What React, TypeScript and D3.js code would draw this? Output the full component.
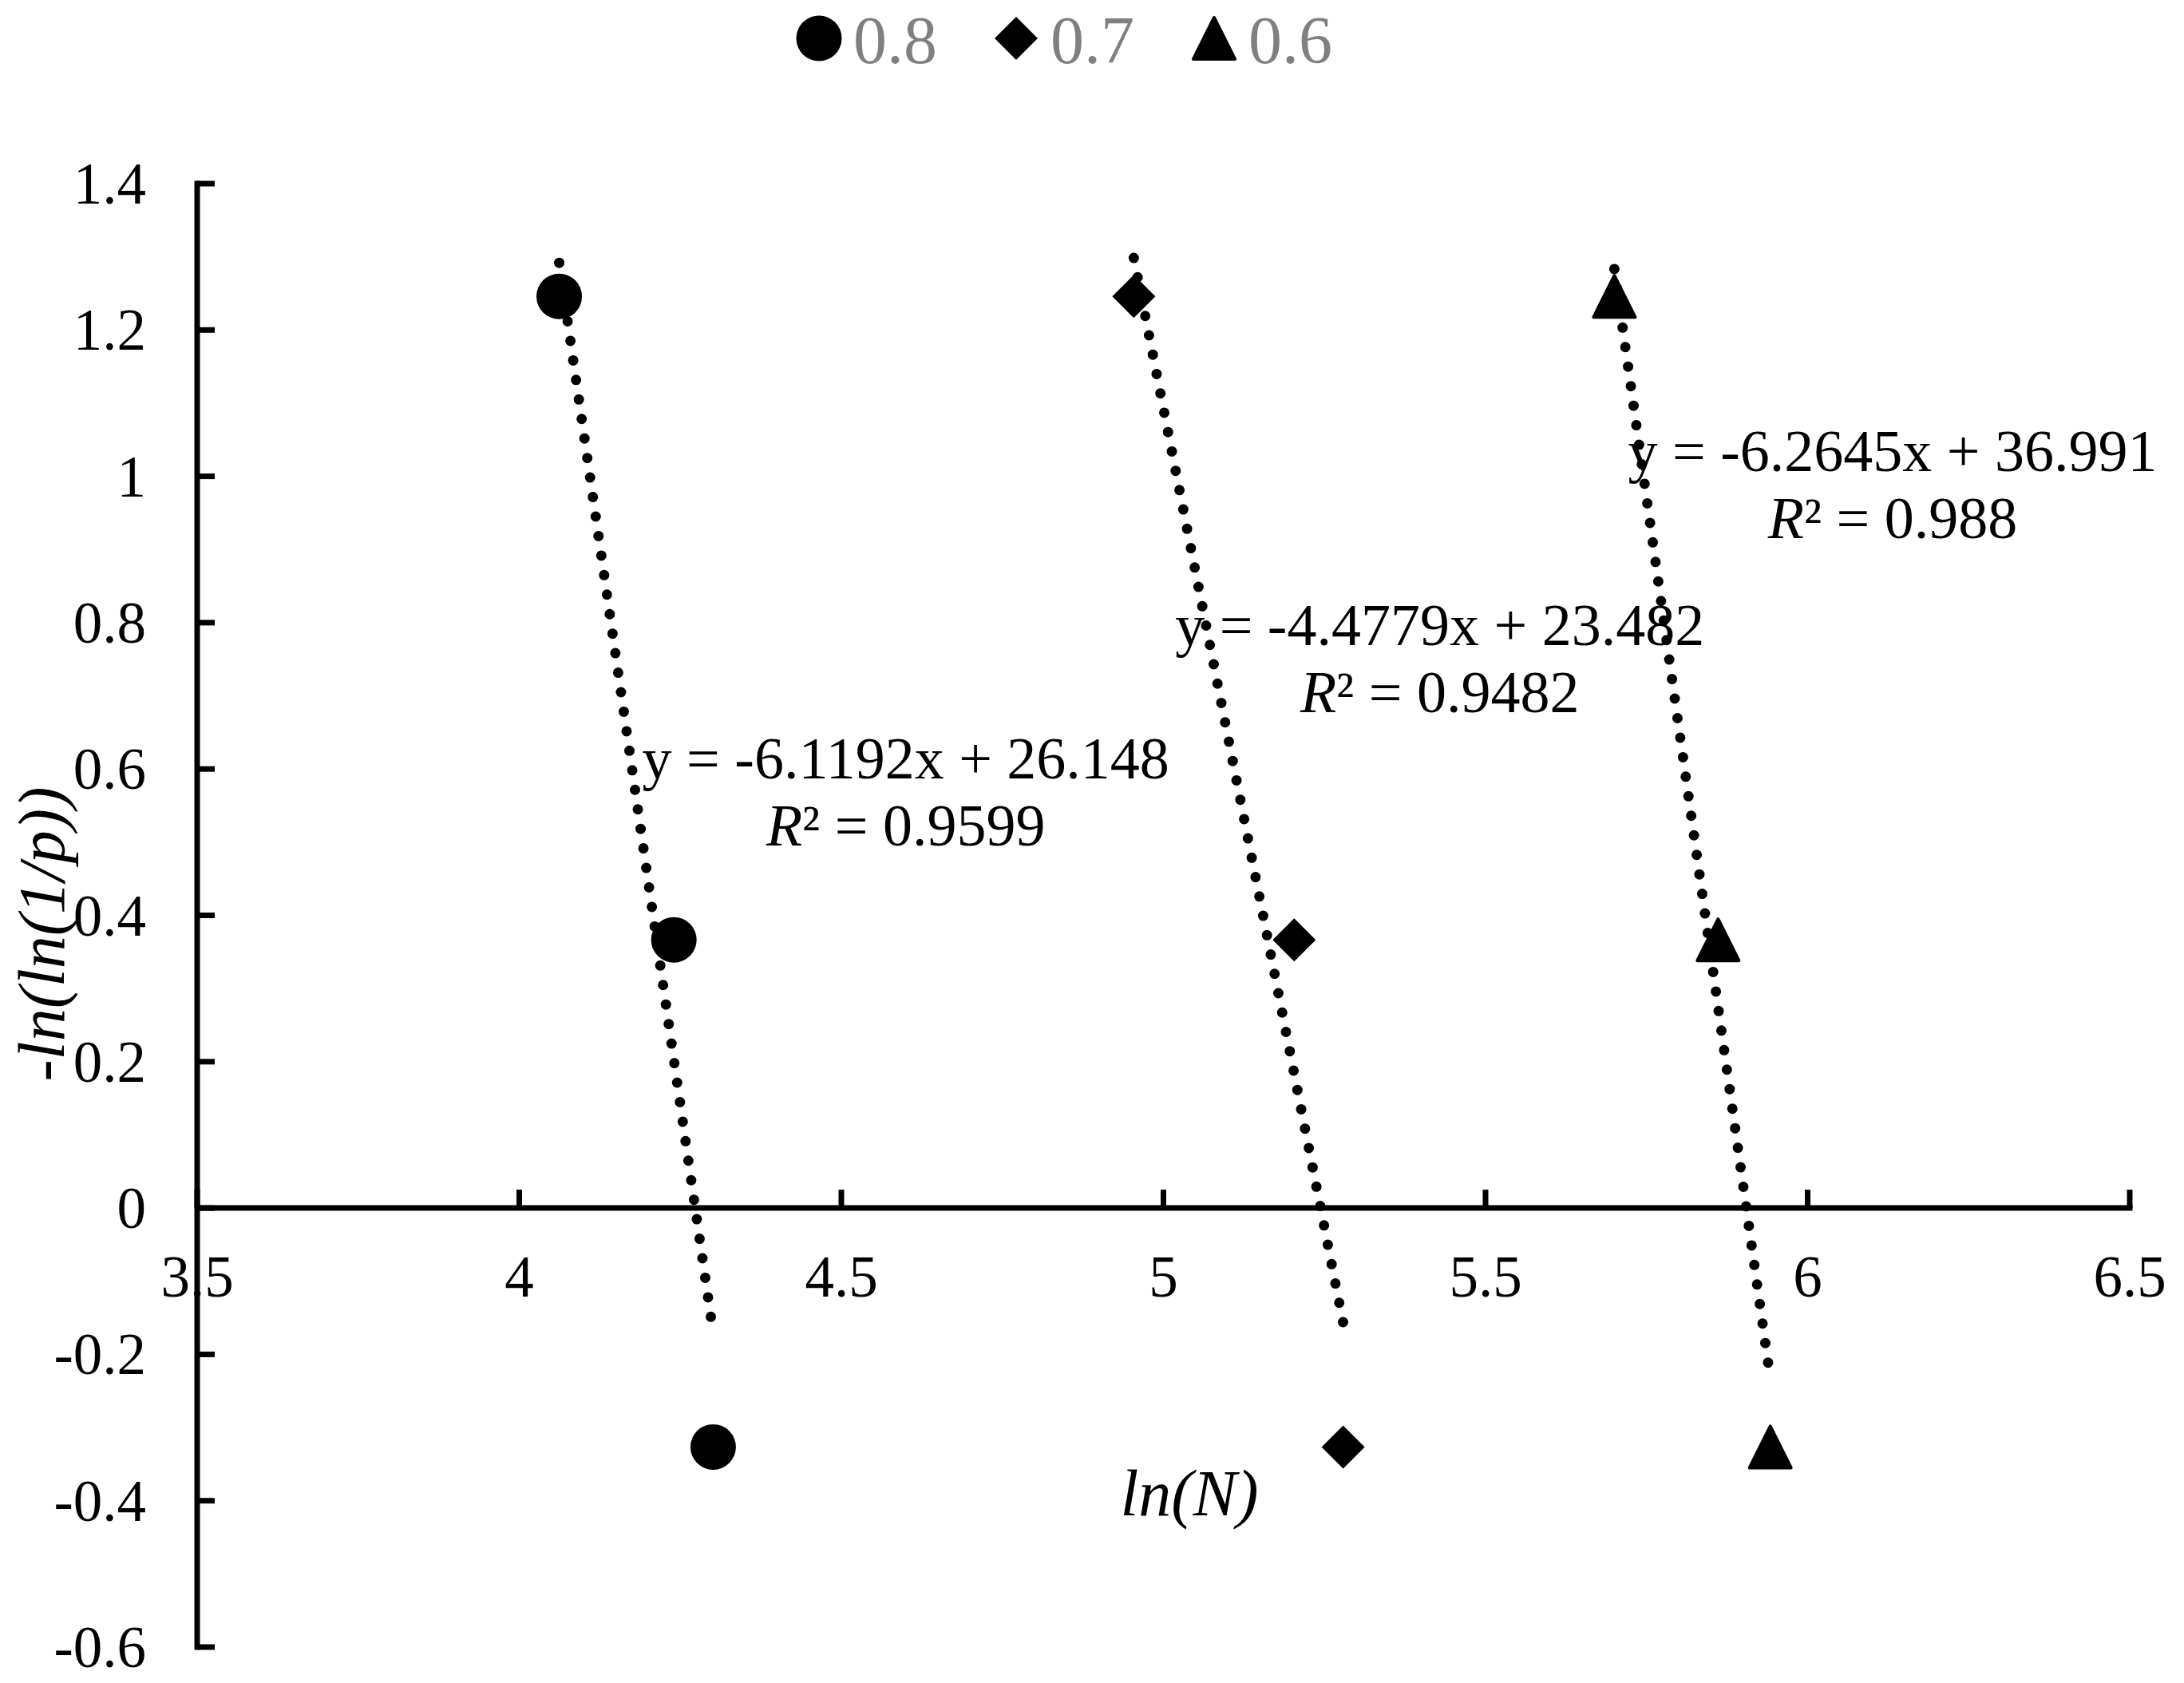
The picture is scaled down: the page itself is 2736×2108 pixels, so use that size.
import * as d3 from 'd3';

const W = 2736;
const H = 2108;

// data
const seriesNames = ['0.8', '0.7', '0.6'];
const yValues = [1.2459, 0.3665, -0.3266];
const xCircle = [4.062, 4.24, 4.301];
const xDiamond = [4.954, 5.203, 5.279];
const xTriangle = [5.7, 5.861, 5.942];
const slopes = [-6.1192, -4.4779, -6.2645];
const intercepts = [26.148, 23.482, 36.991];
const rSquared = ['0.9599', '0.9482', '0.988'];
const xTicks = [3.5, 4, 4.5, 5, 5.5, 6, 6.5];
const yTicks = [1.4, 1.2, 1, 0.8, 0.6, 0.4, 0.2, 0, -0.2, -0.4, -0.6];

// where the equation labels sit (data units, centre of first line)
const eqAnchorX = [4.6, 5.429, 6.132];
const eqAnchorY = [0.587, 0.769, 1.007];

const FONT = '"Liberation Serif", "Times New Roman", serif';

function marker(kind: string, cx: number, cy: number) {
  if (kind === 'circle') {
    return <circle cx={cx} cy={cy} r={28.5} fill="#000" />;
  }
  if (kind === 'diamond') {
    const h = 27;
    return (
      <path
        d={`M${cx},${cy - h}L${cx + h},${cy}L${cx},${cy + h}L${cx - h},${cy}Z`}
        fill="#000"
      />
    );
  }
  const s = 26;
  return (
    <path
      d={`M${cx},${cy - s}L${cx + s},${cy + s}L${cx - s},${cy + s}Z`}
      fill="#000"
      stroke="#000"
      strokeWidth={4}
      strokeLinejoin="round"
    />
  );
}

export default function App() {
  const x = d3.scaleLinear().domain([3.5, 6.5]).range([247, 2668]);
  const y = d3.scaleLinear().domain([-0.6, 1.4]).range([2063, 230]);

  const series = [
    { kind: 'circle', xs: xCircle },
    { kind: 'diamond', xs: xDiamond },
    { kind: 'triangle', xs: xTriangle },
  ];

  const line = d3
    .line<number[]>()
    .x((d) => x(d[0]))
    .y((d) => y(d[1]));

  const x0 = x(3.5);
  const y0 = y(0);

  return (
    <svg
      width={W}
      height={H}
      viewBox={`0 0 ${W} ${H}`}
      style={{ position: 'absolute', left: 0, top: 0, background: '#fff' }}
      fontFamily={FONT}
    >
      <rect width={W} height={H} fill="#fff" />

      {/* legend */}
      {seriesNames.map((name, i) => {
        const cx = [1026, 1273, 1521][i];
        return (
          <g key={name}>
            {marker(series[i].kind, cx, 48)}
            <text x={cx + 43} y={79} fontSize={84} fill="#808080">
              {name}
            </text>
          </g>
        );
      })}

      {/* y axis */}
      <line x1={x0} x2={x0} y1={y(1.4) - 3.5} y2={y(-0.6) + 3.5} stroke="#000" strokeWidth={7} />
      {yTicks.map((t) => (
        <g key={'y' + t}>
          <line x1={x0} x2={x0 + 22} y1={y(t)} y2={y(t)} stroke="#000" strokeWidth={7} />
          <text x={183} y={y(t) + 25} fontSize={73} textAnchor="end" fill="#000">
            {String(t)}
          </text>
        </g>
      ))}

      {/* x axis */}
      <line x1={x0} x2={x(6.5) + 3.5} y1={y0} y2={y0} stroke="#000" strokeWidth={7} />
      {xTicks.map((t) => (
        <g key={'x' + t}>
          <line x1={x(t)} x2={x(t)} y1={y0} y2={y0 - 23} stroke="#000" strokeWidth={7} />
          <text x={x(t)} y={y0 + 111} fontSize={73} textAnchor="middle" fill="#000">
            {String(t)}
          </text>
        </g>
      ))}

      {/* trendlines */}
      {series.map((s, i) => {
        const lo = d3.min(s.xs) as number;
        const hi = d3.max(s.xs) as number;
        const pts = [lo, hi].map((v) => [v, slopes[i] * v + intercepts[i]]);
        return (
          <path
            key={'tl' + i}
            d={line(pts) as string}
            fill="none"
            stroke="#000"
            strokeWidth={13}
            strokeLinecap="round"
            strokeDasharray="0 24.7"
          />
        );
      })}

      {/* points */}
      {series.map((s, i) =>
        s.xs.map((v, j) => <g key={`p${i}-${j}`}>{marker(s.kind, x(v), y(yValues[j]))}</g>)
      )}

      {/* equations */}
      {series.map((s, i) => {
        const cx = x(eqAnchorX[i]);
        const cy = y(eqAnchorY[i]);
        return (
          <g key={'eq' + i} fontSize={74} fill="#000" textAnchor="middle">
            <text x={cx} y={cy}>
              {`y = ${slopes[i]}x + ${intercepts[i]}`}
            </text>
            <text x={cx} y={cy + 84}>
              <tspan fontStyle="italic">R</tspan>
              {`² = ${rSquared[i]}`}
            </text>
          </g>
        );
      })}

      {/* axis titles */}
      <text x={1490} y={1898} fontSize={82} fontStyle="italic" textAnchor="middle" fill="#000">
        ln(N)
      </text>
      <text
        transform="translate(80,1170) rotate(-90)"
        fontSize={82}
        fontStyle="italic"
        textAnchor="middle"
        fill="#000"
      >
        -ln(ln(1/p))
      </text>
    </svg>
  );
}
